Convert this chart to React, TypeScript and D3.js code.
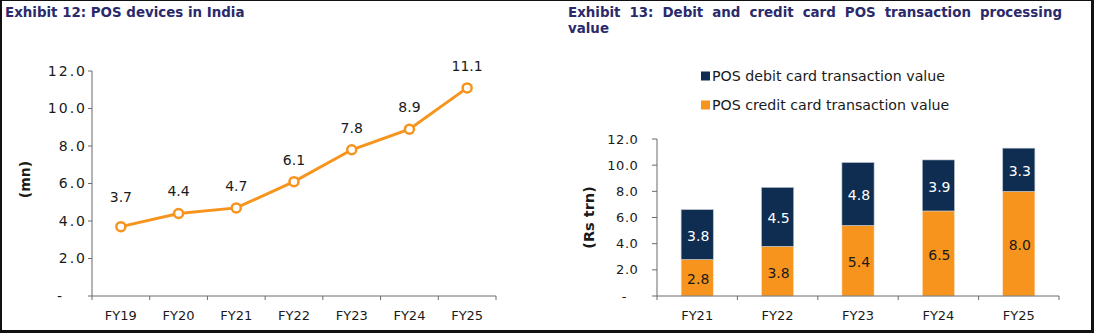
import React, { useEffect, useRef } from "react";
import * as d3 from "d3";

const years1 = ["FY19", "FY20", "FY21", "FY22", "FY23", "FY24", "FY25"];
const posDevices = [3.7, 4.4, 4.7, 6.1, 7.8, 8.9, 11.1];

const years2 = ["FY21", "FY22", "FY23", "FY24", "FY25"];
const creditValue = [2.8, 3.8, 5.4, 6.5, 8.0];
const debitValue = [3.8, 4.5, 4.8, 3.9, 3.3];

const yTicks = [0, 2, 4, 6, 8, 10, 12];

const title1 = "Exhibit 12: POS devices in India";
const title2Line1 = ["Exhibit", "13:", "Debit", "and", "credit", "card", "POS", "transaction", "processing"];
const title2Line2 = "value";
const legendLabels = ["POS debit card transaction value", "POS credit card transaction value"];

const ORANGE = "#F7941D";
const NAVY = "#0E2D50";
const AXIS = "#6b6b6b";
const TEXT = "#1a1a1a";
const TITLE = "#2B2A6B";
const FONT = "'DejaVu Sans', Verdana, sans-serif";

export default function App() {
  const ref = useRef<SVGSVGElement | null>(null);

  useEffect(() => {
    const svg = d3.select(ref.current);
    svg.selectAll("*").remove();
    const fmt = (d: number) => (d === 0 ? "-" : d3.format(".1f")(d));

    // Frame
    svg.append("rect").attr("x", 0).attr("y", 0).attr("width", 1094).attr("height", 333).attr("fill", "#fff");
    const frame = svg.append("g").attr("fill", "#111");
    frame.append("rect").attr("x", 0).attr("y", 0).attr("width", 2).attr("height", 333);
    frame.append("rect").attr("x", 0).attr("y", 0).attr("width", 1094).attr("height", 1);
    frame.append("rect").attr("x", 1091).attr("y", 0).attr("width", 3).attr("height", 333);
    frame.append("rect").attr("x", 0).attr("y", 330).attr("width", 1094).attr("height", 3);

    // Titles
    svg.append("text").attr("x", 5).attr("y", 17).attr("font-family", FONT).attr("font-weight", "bold")
      .attr("font-size", 13.4).attr("fill", TITLE).text(title1);

    const t2 = svg.append("g").attr("font-family", FONT).attr("font-weight", "bold").attr("font-size", 13.4).attr("fill", TITLE);
    const words = t2.selectAll("text.w").data(title2Line1).enter().append("text").attr("class", "w").attr("y", 17).text((d) => d);
    const widths: number[] = [];
    words.each(function () { widths.push((this as SVGTextElement).getComputedTextLength()); });
    const startX = 568, endX = 1062;
    const gap = (endX - startX - d3.sum(widths)) / (title2Line1.length - 1);
    let cx = startX;
    words.attr("x", (_d, i) => { const v = cx; cx += widths[i] + gap; return v; });
    t2.append("text").attr("x", 568).attr("y", 33).text(title2Line2);

    // ---- Left chart ----
    const x1 = d3.scaleBand().domain(years1).range([92, 496]);
    const y1 = d3.scaleLinear().domain([0, 12]).range([296, 71]);
    const g1 = svg.append("g");
    g1.append("line").attr("x1", 92).attr("x2", 92).attr("y1", y1(12)).attr("y2", y1(0)).attr("stroke", AXIS);
    g1.append("line").attr("x1", 92).attr("x2", 496).attr("y1", y1(0)).attr("y2", y1(0)).attr("stroke", AXIS);
    g1.selectAll("line.yt").data(yTicks).enter().append("line").attr("x1", 88).attr("x2", 92)
      .attr("y1", (d) => y1(d)).attr("y2", (d) => y1(d)).attr("stroke", AXIS);
    g1.selectAll("text.yl").data(yTicks).enter().append("text").attr("x", (d) => (d === 0 ? 64 : 87))
      .attr("y", (d) => y1(d)).attr("dy", "0.35em").attr("text-anchor", "end").attr("font-family", FONT)
      .attr("font-size", 14).attr("letter-spacing", 2).attr("fill", TEXT).text(fmt);
    const bounds1 = years1.map((y) => x1(y) as number).concat([496]);
    g1.selectAll("line.xt").data(bounds1).enter().append("line").attr("x1", (d) => d).attr("x2", (d) => d)
      .attr("y1", y1(0)).attr("y2", y1(0) + 4).attr("stroke", AXIS);
    g1.selectAll("text.xl").data(years1).enter().append("text")
      .attr("x", (d) => (x1(d) as number) + x1.bandwidth() / 2).attr("y", 320).attr("text-anchor", "middle")
      .attr("font-family", FONT).attr("font-size", 13).attr("fill", TEXT).text((d) => d);
    g1.append("text").attr("transform", `translate(30,${(y1(0) + y1(12)) / 2 - 4}) rotate(-90)`).attr("text-anchor", "middle")
      .attr("font-family", FONT).attr("font-weight", "bold").attr("font-size", 14).attr("fill", TEXT).text("(mn)");

    const pts = years1.map((y, i) => ({ year: y, v: posDevices[i] }));
    const cxF = (d: { year: string }) => (x1(d.year) as number) + x1.bandwidth() / 2;
    const line = d3.line<{ year: string; v: number }>().x(cxF).y((d) => y1(d.v));
    g1.append("path").attr("d", line(pts) as string).attr("fill", "none").attr("stroke", ORANGE).attr("stroke-width", 3);
    g1.selectAll("circle").data(pts).enter().append("circle").attr("cx", cxF).attr("cy", (d) => y1(d.v)).attr("r", 4.5)
      .attr("fill", "#fff").attr("stroke", ORANGE).attr("stroke-width", 2.5);
    g1.selectAll("text.dl").data(pts).enter().append("text").attr("x", cxF)
      .attr("y", (d, i) => y1(d.v) - (i === 0 ? 30 : 22)).attr("dy", "0.35em").attr("text-anchor", "middle")
      .attr("font-family", FONT).attr("font-size", 14).attr("fill", TEXT).text((d) => d3.format(".1f")(d.v));

    // ---- Right chart ----
    const xb = d3.scaleBand().domain(years2).range([657, 1059]);
    const y2 = d3.scaleLinear().domain([0, 12]).range([296, 139]);
    const g2 = svg.append("g");

    const stacked = years2.map((y, i) => ({ year: y, credit: creditValue[i], debit: debitValue[i] }));
    const bw = xb.bandwidth() * 0.4;
    const bx = (y: string) => (xb(y) as number) + xb.bandwidth() / 2 - bw / 2;
    g2.selectAll("rect.cr").data(stacked).enter().append("rect").attr("x", (d) => bx(d.year)).attr("width", bw)
      .attr("y", (d) => y2(d.credit)).attr("height", (d) => y2(0) - y2(d.credit)).attr("fill", ORANGE)
      .attr("stroke", "#fde3c4").attr("stroke-width", 0.6);
    g2.selectAll("rect.db").data(stacked).enter().append("rect").attr("x", (d) => bx(d.year)).attr("width", bw)
      .attr("y", (d) => y2(d.credit + d.debit)).attr("height", (d) => y2(d.credit) - y2(d.credit + d.debit)).attr("fill", NAVY)
      .attr("stroke", "#b9c3cf").attr("stroke-width", 0.6);
    g2.selectAll("text.crl").data(stacked).enter().append("text").attr("x", (d) => bx(d.year) + bw / 2 + 1)
      .attr("y", (d) => (y2(0) + y2(d.credit)) / 2 + 1.5).attr("dy", "0.35em").attr("text-anchor", "middle")
      .attr("font-family", FONT).attr("font-size", 14).attr("fill", TEXT).text((d) => d3.format(".1f")(d.credit));
    g2.selectAll("text.dbl").data(stacked).enter().append("text").attr("x", (d) => bx(d.year) + bw / 2 + 1)
      .attr("y", (d) => (y2(d.credit) + y2(d.credit + d.debit)) / 2 + 1.5).attr("dy", "0.35em").attr("text-anchor", "middle")
      .attr("font-family", FONT).attr("font-size", 14).attr("fill", "#fff").text((d) => d3.format(".1f")(d.debit));

    g2.append("line").attr("x1", 657).attr("x2", 657).attr("y1", y2(12)).attr("y2", y2(0)).attr("stroke", AXIS);
    g2.append("line").attr("x1", 657).attr("x2", 1059).attr("y1", y2(0)).attr("y2", y2(0)).attr("stroke", AXIS);
    g2.selectAll("line.yt").data(yTicks).enter().append("line").attr("x1", 652).attr("x2", 657)
      .attr("y1", (d) => y2(d)).attr("y2", (d) => y2(d)).attr("stroke", AXIS);
    g2.selectAll("text.yl").data(yTicks).enter().append("text").attr("x", (d) => (d === 0 ? 627 : 638.5))
      .attr("y", (d) => y2(d)).attr("dy", "0.35em").attr("text-anchor", "end").attr("font-family", FONT)
      .attr("font-size", 13).attr("letter-spacing", 0.6).attr("fill", TEXT).text(fmt);
    const bounds2 = years2.map((y) => xb(y) as number).concat([1059]);
    g2.selectAll("line.xt").data(bounds2).enter().append("line").attr("x1", (d) => d).attr("x2", (d) => d)
      .attr("y1", y2(0)).attr("y2", y2(0) + 4).attr("stroke", AXIS);
    g2.selectAll("text.xl").data(years2).enter().append("text")
      .attr("x", (d) => (xb(d) as number) + xb.bandwidth() / 2).attr("y", 320).attr("text-anchor", "middle")
      .attr("font-family", FONT).attr("font-size", 13).attr("fill", TEXT).text((d) => d);
    g2.append("text").attr("transform", `translate(594,${(y2(0) + y2(12)) / 2}) rotate(-90)`).attr("text-anchor", "middle")
      .attr("font-family", FONT).attr("font-weight", "bold").attr("font-size", 14.5).attr("fill", TEXT).text("(Rs trn)");

    // Legend
    const leg = svg.append("g");
    const legColors = [NAVY, ORANGE];
    const legY = [76, 105];
    legendLabels.forEach((lab, i) => {
      leg.append("rect").attr("x", 701).attr("y", legY[i] - 4.5).attr("width", 9).attr("height", 9).attr("fill", legColors[i]);
      leg.append("text").attr("x", 712).attr("y", legY[i]).attr("dy", "0.35em").attr("font-family", FONT)
        .attr("font-size", 14.2).attr("fill", TEXT).text(lab);
    });
  }, []);

  return (
    <svg ref={ref} width={1094} height={333} style={{ position: "absolute", left: 0, top: 0, display: "block" }} />
  );
}
